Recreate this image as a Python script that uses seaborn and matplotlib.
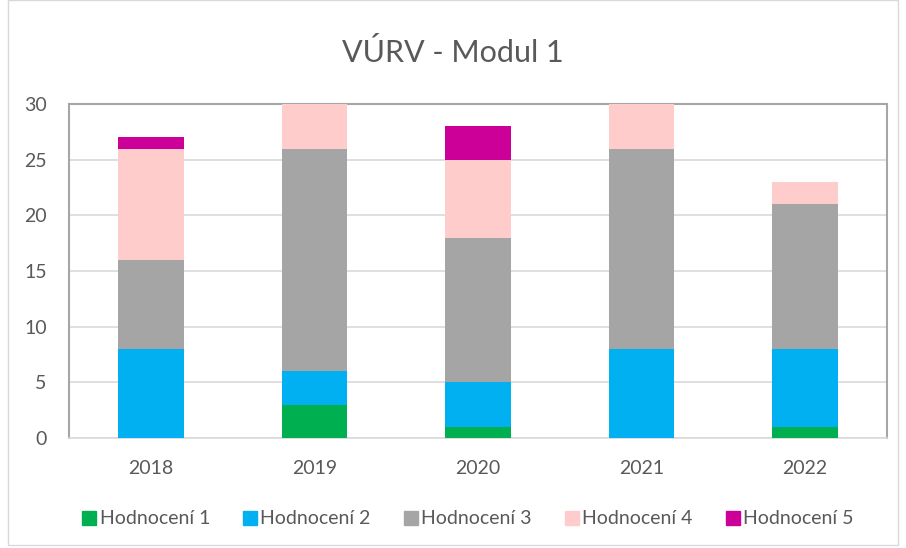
import matplotlib
matplotlib.use("Agg")
import matplotlib.pyplot as plt
import seaborn as sns
import numpy as np
import pandas as pd
from matplotlib.lines import Line2D
from matplotlib.patches import Rectangle

years = ["2018", "2019", "2020", "2021", "2022"]
series_names = ["Hodnocení 1", "Hodnocení 2", "Hodnocení 3", "Hodnocení 4", "Hodnocení 5"]
h1 = [0, 3, 1, 0, 1]
h2 = [8, 3, 4, 8, 7]
h3 = [8, 20, 13, 18, 13]
h4 = [10, 4, 7, 4, 2]
h5 = [1, 0, 3, 0, 0]
colors = ["#00b050", "#00b0f0", "#a5a5a5", "#ffcccc", "#cc0099"]
yticks = [0, 5, 10, 15, 20, 25, 30]

sns.set_theme(style="white")
plt.rcParams["font.family"] = ["Lato", "DejaVu Sans"]
txt = "#595959"

fig = plt.figure(figsize=(9.06, 5.48), dpi=100)
ax = fig.add_axes([69 / 906, 110 / 548, 818 / 906, 334 / 548])

bottom = np.zeros(len(years))
for name, vals, col in zip(series_names, [h1, h2, h3, h4, h5], colors):
    df = pd.DataFrame({"year": years, "value": vals})
    sns.barplot(data=df, x="year", y="value", color=col, width=0.4,
                bottom=bottom.copy(), ax=ax, linewidth=0, saturation=1,
                zorder=3)
    bottom += np.array(vals)

ax.set_xlim(-0.5, 4.5)
ax.set_ylim(0, 30)
ax.set_yticks(yticks)
ax.set_xlabel("")
ax.set_ylabel("")
ax.yaxis.grid(True, color="#d9d9d9", linewidth=1.2, zorder=0)
ax.set_axisbelow(True)
for s in ["top", "left", "right"]:
    ax.spines[s].set_color("#a6a6a6")
    ax.spines[s].set_linewidth(1.5)
ax.spines["bottom"].set_color("#d9d9d9")
ax.spines["bottom"].set_linewidth(1.2)
ax.tick_params(axis="y", length=0, labelsize=14, labelcolor=txt, pad=16)
ax.tick_params(axis="x", which="major", length=0, labelsize=14, labelcolor=txt, pad=16)
ax.set_xticks(np.arange(-0.5, 5.0, 1.0), minor=True)
ax.tick_params(axis="x", which="minor", length=6, width=1.2, color="#d9d9d9", direction="out")

fig.text(0.5, 1 - 52 / 548, "VÚRV - Modul 1", fontsize=22, color=txt,
         ha="center", va="center")

handles = [Line2D([0], [0], marker="s", linestyle="", markersize=10,
                  markerfacecolor=c, markeredgecolor=c) for c in colors]
fig.legend(handles, series_names, loc="center", bbox_to_anchor=(467 / 906, 1 - 519 / 548),
           ncol=5, frameon=False, fontsize=14, labelcolor=txt,
           handletextpad=0.1, columnspacing=1.6, handlelength=0.9)

fig.patches.append(Rectangle((8 / 906, 3 / 548), 890 / 906, 545 / 548,
                             transform=fig.transFigure, fill=False,
                             edgecolor="#d9d9d9", linewidth=1.0))

fig.savefig("out.png", dpi=100)
